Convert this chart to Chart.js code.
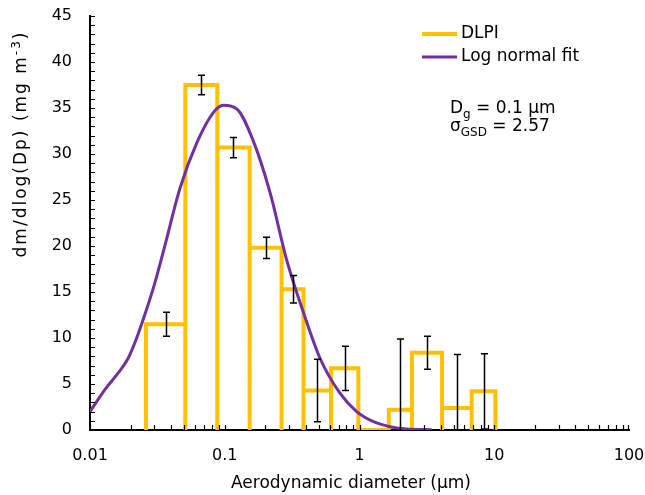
<!DOCTYPE html>
<html>
<head>
<meta charset="utf-8">
<script src="https://cdn.jsdelivr.net/npm/chart.js@4.4.0/dist/chart.umd.min.js"></script>
<style>
  html, body { margin: 0; padding: 0; background: #fff; }
</style>
</head>
<body>
<canvas id="chart" width="645" height="495"></canvas>
<script>
// DLPI stage boundaries (um) and dm/dlog(Dp) of each stage
const stageEdges = [0.026, 0.051, 0.088, 0.153, 0.264, 0.384, 0.614, 0.98, 1.65, 2.45, 4.1, 6.8, 10.2];
const dlpiValues = [11.5, 37.5, 30.7, 19.8, 15.3, 4.3, 6.7, 0, 2.2, 8.4, 2.4, 4.2];
const dlpiErrors = [1.3, 1.05, 1.1, 1.15, 1.5, 3.4, 2.4, 0, 7.7, 1.8, 5.8, 4.1];

// log normal fit
const fitDiam = [0.01, 0.0129, 0.0162, 0.0192, 0.0222, 0.0256, 0.0303, 0.0356, 0.0466, 0.062, 0.0822, 0.0975,
                 0.1228, 0.163, 0.217, 0.288, 0.383, 0.509, 0.716, 0.953, 1.27, 1.68, 2.24, 3.44];
const fitValues = [2.0, 4.4, 6.2, 7.8, 10.0, 12.6, 16.0, 19.8, 26.3, 31.2, 34.5, 35.3,
                   34.9, 31.4, 25.8, 18.5, 12.8, 7.8, 4.0, 2.0, 0.9, 0.36, 0.1, 0.03];

const xTickValues = [0.01, 0.1, 1, 10, 100];
const yMin = 0, yMax = 45, yStep = 5;

const ORANGE = "#FFC000";
const PURPLE = "#7030A0";
const FONT = "'DejaVu Sans', sans-serif";

// histogram outline: each stage drawn up, across and back down
const outline = [];
for (let i = 0; i < dlpiValues.length; i++) {
    outline.push({ x: stageEdges[i], y: 0 });
    outline.push({ x: stageEdges[i], y: dlpiValues[i] });
    outline.push({ x: stageEdges[i + 1], y: dlpiValues[i] });
    outline.push({ x: stageEdges[i + 1], y: 0 });
}
const fitPoints = fitDiam.map((d, i) => ({ x: d, y: fitValues[i] }));

// text with sub/superscript pieces
function drawRich(ctx, parts, x, y, size) {
    let cx = x;
    parts.forEach(p => {
        const small = p.sub || p.sup;
        ctx.font = (small ? Math.round(size * 0.72) : size) + "px " + FONT;
        const dy = p.sub ? size * 0.3 : (p.sup ? -size * 0.38 : 0);
        ctx.fillText(p.t, cx, y + dy);
        cx += ctx.measureText(p.t).width;
    });
    return cx - x;
}
function richWidth(ctx, parts, size) {
    let w = 0;
    parts.forEach(p => {
        const small = p.sub || p.sup;
        ctx.font = (small ? Math.round(size * 0.72) : size) + "px " + FONT;
        w += ctx.measureText(p.t).width;
    });
    return w;
}

const decor = {
    id: "decor",
    afterDatasetsDraw(chart) {
        const { ctx, scales: { x, y } } = chart;
        ctx.save();
        // error bars
        ctx.strokeStyle = "#000";
        ctx.lineWidth = 1.5;
        dlpiErrors.forEach((err, i) => {
            if (!err) return;
            const mid = Math.sqrt(stageEdges[i] * stageEdges[i + 1]);
            const px = Math.round(x.getPixelForValue(mid)) + 0.5;
            const hi = y.getPixelForValue(dlpiValues[i] + err);
            const lowVal = dlpiValues[i] - err;
            const lo = y.getPixelForValue(Math.max(lowVal, 0));
            ctx.beginPath();
            ctx.moveTo(px, hi); ctx.lineTo(px, lo);
            ctx.moveTo(px - 3.5, hi); ctx.lineTo(px + 3.5, hi);
            if (lowVal >= 0) { ctx.moveTo(px - 3.5, lo); ctx.lineTo(px + 3.5, lo); }
            ctx.stroke();
        });
        // inside tick marks
        ctx.lineWidth = 1.2;
        ctx.beginPath();
        for (let v = yMin; v <= yMax; v++) {
            const py = Math.round(y.getPixelForValue(v)) + 0.5;
            ctx.moveTo(x.left, py); ctx.lineTo(x.left + 5, py);
        }
        for (let d = 0; d < xTickValues.length - 1; d++) {
            for (let k = 1; k <= 9; k++) {
                const px = Math.round(x.getPixelForValue(xTickValues[d] * k)) + 0.5;
                ctx.moveTo(px, y.bottom); ctx.lineTo(px, y.bottom - 5);
            }
        }
        const pEnd = Math.round(x.getPixelForValue(xTickValues[xTickValues.length - 1])) - 0.5;
        ctx.moveTo(pEnd, y.bottom); ctx.lineTo(pEnd, y.bottom - 5);
        ctx.stroke();
        ctx.restore();
    },
    afterDraw(chart) {
        const { ctx } = chart;
        ctx.save();
        ctx.fillStyle = "#000";

        // legend
        const items = [{ label: "DLPI", color: ORANGE, w: 4, cy: 34 }, { label: "Log normal fit", color: PURPLE, w: 3, cy: 57 }];
        items.forEach(it => {
            ctx.strokeStyle = it.color;
            ctx.lineWidth = it.w;
            ctx.beginPath();
            ctx.moveTo(422, it.cy); ctx.lineTo(457, it.cy);
            ctx.stroke();
            ctx.font = "17px " + FONT;
            ctx.textBaseline = "middle";
            ctx.fillText(it.label, 461, it.cy);
        });

        // fit parameters
        ctx.textBaseline = "alphabetic";
        drawRich(ctx, [{ t: "D" }, { t: "g", sub: true }, { t: " = 0.1 µm" }], 450, 113, 17);
        drawRich(ctx, [{ t: "σ" }, { t: "GSD", sub: true }, { t: " = 2.57" }], 450, 131, 17);

        // x axis title
        const xt = [{ t: "Aerodynamic diameter (µm)" }];
        const xw = richWidth(ctx, xt, 17);
        drawRich(ctx, xt, 351 - xw / 2, 488, 17);

        // y axis title
        ctx.letterSpacing = "2px";
        const yt = [{ t: "dm/dlog(Dp) (mg m" }, { t: "-3", sup: true }, { t: ")" }];
        const yw = richWidth(ctx, yt, 17);
        ctx.translate(26, 144);
        ctx.rotate(-Math.PI / 2);
        drawRich(ctx, yt, -yw / 2, 0, 17);
        ctx.restore();
    }
};

new Chart(document.getElementById("chart"), {
    type: "scatter",
    data: {
        datasets: [
            {
                label: "Log normal fit",
                data: fitPoints,
                showLine: true,
                borderColor: PURPLE,
                borderWidth: 3,
                pointRadius: 0,
                cubicInterpolationMode: "monotone",
                order: 1
            },
            {
                label: "DLPI",
                data: outline,
                showLine: true,
                borderColor: ORANGE,
                borderWidth: 4,
                borderJoinStyle: "miter",
                pointRadius: 0,
                tension: 0,
                order: 2
            }
        ]
    },
    options: {
        responsive: false,
        animation: false,
        devicePixelRatio: 1,
        layout: { padding: { left: 0, right: 16, top: 16, bottom: 0 } },
        plugins: { legend: { display: false }, tooltip: { enabled: false } },
        scales: {
            x: {
                type: "logarithmic",
                min: xTickValues[0],
                max: xTickValues[xTickValues.length - 1],
                afterBuildTicks: s => { s.ticks = xTickValues.map(v => ({ value: v })); },
                afterFit: s => { s.height = 65; },
                ticks: {
                    callback: v => String(v),
                    font: { family: FONT, size: 16 },
                    color: "#000",
                    padding: 0,
                    maxRotation: 0,
                    autoSkip: false
                },
                grid: { display: false, drawTicks: true, tickLength: 16 },
                border: { display: true, color: "#000", width: 2 }
            },
            y: {
                min: yMin,
                max: yMax,
                afterFit: s => { s.width = 90; },
                ticks: {
                    stepSize: yStep,
                    font: { family: FONT, size: 16 },
                    color: "#000",
                    padding: 0
                },
                grid: { display: false, drawTicks: true, tickLength: 18 },
                border: { display: true, color: "#000", width: 2 }
            }
        }
    },
    plugins: [decor]
});
</script>
</body>
</html>
